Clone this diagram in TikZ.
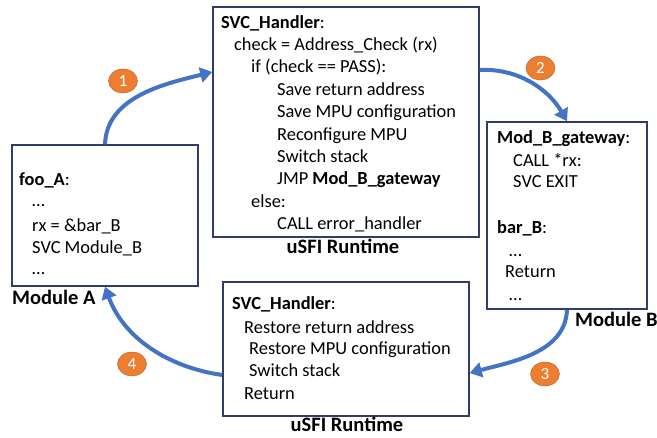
\documentclass[tikz,border=0pt]{standalone}
\usepackage{fontspec}
\setmainfont{Carlito}
\usetikzlibrary{arrows.meta,shapes.geometric}
\definecolor{boxline}{HTML}{2F3C6C}
\definecolor{flowblue}{HTML}{4472C4}
\definecolor{badgeorange}{HTML}{ED7D31}
\definecolor{badgeedge}{HTML}{B8612A}
\tikzset{
  codebox/.style={draw=boxline, line width=1.5pt, rectangle, inner sep=0pt},
  code/.style={anchor=base west, inner sep=0pt, font=\fontsize{18.4}{22}\selectfont},
  caption/.style={anchor=base, inner sep=0pt, font=\fontsize{20.5}{24}\selectfont\bfseries},
  flow/.style={draw=flowblue, line width=4pt, -{Triangle[length=12pt,width=15pt]}},
  badge/.style={ellipse, fill=badgeorange, draw=badgeedge, line width=0.4pt,
    minimum width=29pt, minimum height=24pt, inner sep=0pt, text=white,
    font=\fontsize{17}{20}\selectfont}
}
\begin{document}
\begin{tikzpicture}[x=1pt,y=1pt]
\useasboundingbox (0,0) rectangle (657,438);

% boxes
\node[codebox, minimum width=186pt, minimum height=141pt] (modA) at (105,222.5) {};
\node[codebox, minimum width=266pt, minimum height=230pt] (rtTop) at (346,316) {};
\node[codebox, minimum width=160pt, minimum height=187pt] (modB) at (567,222.5) {};
\node[codebox, minimum width=246pt, minimum height=134pt] (rtBot) at (346,89) {};

% Module A code
\node[code] (a1) at (19,252) {\bfseries foo\_A\mdseries:};
\node[code] (a2) at (32,231) {…};
\node[code] (a3) at (32,206.3) {rx = \&bar\_B};
\node[code] (a4) at (32,184.7) {SVC Module\_B};
\node[code] (a5) at (32,163) {…};

% upper runtime handler
\node[code] (t1)  at (221,409.7) {\bfseries SVC\_Handler\mdseries:};
\node[code] (t2)  at (234,387.3) {check = Address\_Check (rx)};
\node[code] (t3)  at (251,365.3) {if (check == PASS):};
\node[code] (t4)  at (277,342.6) {Save return address};
\node[code] (t5)  at (277,320.2) {Save MPU configuration};
\node[code] (t6)  at (277,297.8) {Reconfigure MPU};
\node[code] (t7)  at (277,275.4) {Switch stack};
\node[code] (t8)  at (277,253)   {JMP \textbf{Mod\_B\_gateway}};
\node[code] (t9)  at (251,230.6) {else:};
\node[code] (t10) at (277,208.2) {CALL error\_handler};

% Module B code
\node[code] (b1) at (497,294)   {\bfseries Mod\_B\_gateway\mdseries:};
\node[code] (b2) at (513,271.5) {CALL *rx:};
\node[code] (b3) at (513,250.7) {SVC EXIT};
\node[code] (b4) at (497,204.7) {\bfseries bar\_B\mdseries:};
\node[code] (b5) at (509,181.5) {…};
\node[code] (b6) at (505,160.7) {Return};
\node[code] (b7) at (509,137.5) {…};

% lower runtime handler
\node[code] (r1) at (232,128)   {\bfseries SVC\_Handler\mdseries:};
\node[code] (r2) at (244,104.7) {Restore return address};
\node[code] (r3) at (249,83)    {Restore MPU configuration};
\node[code] (r4) at (249,61.3)  {Switch stack};
\node[code] (r5) at (244,38.7)  {Return};

% captions
\node[caption, anchor=base west] (capA) at (12,133) {Module A};
\node[caption, anchor=base west] (capB) at (575,111.3) {Module B};
\node[caption] (capTop) at (343,184.7) {uSFI Runtime};
\node[caption] (capBot) at (347,6.3) {uSFI Runtime};

% control-flow arrows
\draw[flow] (modA.north) to[out=88, in=194, looseness=0.95] ([yshift=50pt]rtTop.west);
\draw[flow] ([yshift=52pt]rtTop.east) to[out=3, in=120, looseness=0.95] (modB.north);
\draw[flow] (modB.south) to[out=-92, in=15, looseness=0.95] ([yshift=-24pt]rtBot.east);
\draw[flow] ([yshift=-26pt]rtBot.west) to[out=172, in=-70, looseness=0.95] (modA.south);

% step badges
\node[badge] (s1) at (123,357) {1};
\node[badge] (s2) at (540.5,370) {2};
\node[badge] (s3) at (545,64) {3};
\node[badge] (s4) at (132,74) {4};
\end{tikzpicture}
\end{document}
